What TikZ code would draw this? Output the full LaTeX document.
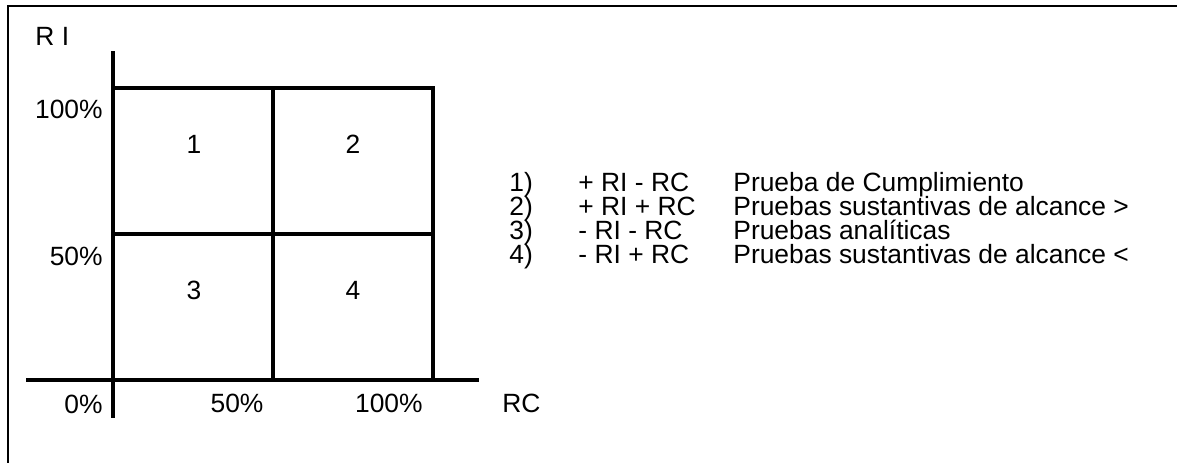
\documentclass[tikz,border=0pt]{standalone}
\usepackage{fontspec}
\setmainfont{Liberation Sans}
\begin{document}
\begin{tikzpicture}[x=0.5pt,y=-0.5pt,
  every node/.style={font=\fontsize{13.2}{15}\selectfont, inner sep=0pt},
  eje/.style={line width=2.4pt},
  celda/.style={line width=1.8pt}]
\useasboundingbox (0,0) rectangle (1177,463);

% Marco (solo arriba e izquierda)
\draw[line width=1pt] (1177,6) -- (8,6) -- (8,463);

% Ejes RI y RC
\draw[eje] (113,51) -- (113,418);
\draw[eje] (26,380) -- (479,380);

% Cuadrantes
\draw[celda] (113,88) -- (433,88) -- (433,380);
\draw[celda] (113,234) -- (433,234);
\draw[celda] (273,88) -- (273,380);

% Numeros de cada cuadrante
\node [anchor=base] (c1) at (194,153) {1};
\node [anchor=base] (c2) at (353,153) {2};
\node [anchor=base] (c3) at (194,299) {3};
\node [anchor=base] (c4) at (353,299) {4};

% Etiquetas de los ejes
\node [anchor=base west] (ri) at (35,45) {R I};
\node [anchor=base east] (y100) at (103,118) {100\%};
\node [anchor=base east] (y50) at (103,265) {50\%};
\node [anchor=base east] (y0) at (103,413) {0\%};
\node [anchor=base] (x50) at (237,412) {50\%};
\node [anchor=base east] (x100) at (423,412) {100\%};
\node [anchor=base west] (rc) at (502,412) {RC};

% Leyenda
\foreach \n/\signo/\texto [count=\i from 0] in {
    1)/{+ RI - RC}/{Prueba de Cumplimiento},
    2)/{+ RI + RC}/{Pruebas sustantivas de alcance >},
    3)/{- RI - RC}/{Pruebas analíticas},
    4)/{- RI + RC}/{Pruebas sustantivas de alcance <}} {
  \node [anchor=base west] (num\i) at (509,191+24*\i) {\n};
  \node [anchor=base west] (sig\i) at (578,191+24*\i) {\signo};
  \node [anchor=base west] (txt\i) at (733,191+24*\i) {\texto};
}
\end{tikzpicture}
\end{document}
